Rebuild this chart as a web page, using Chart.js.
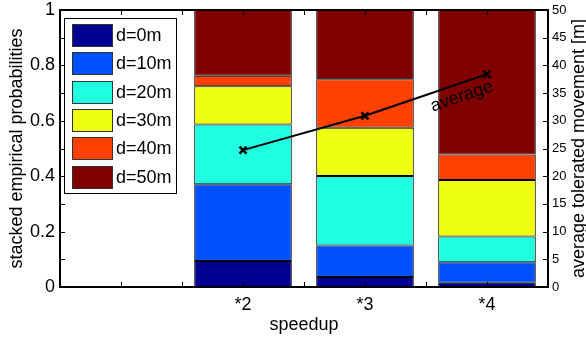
<!DOCTYPE html>
<html>
<head>
<meta charset="utf-8">
<script src="https://cdn.jsdelivr.net/npm/chart.js@4.4.1/dist/chart.umd.min.js"></script>
<style>
  html, body { margin: 0; padding: 0; background: #fff; }
  #wrap { width: 586px; height: 338px; position: relative; }
</style>
</head>
<body>
<div id="wrap"><canvas id="c" width="586" height="338"></canvas></div>
<script>
// ---- data ----
const categories = ['', '*2', '*3', '*4'];
const seriesLabels = ['d=0m', 'd=10m', 'd=20m', 'd=30m', 'd=40m', 'd=50m'];
const d0  = [null, 0.094, 0.036, 0.015];
const d10 = [null, 0.277, 0.114, 0.074];
const d20 = [null, 0.216, 0.251, 0.093];
const d30 = [null, 0.138, 0.174, 0.204];
const d40 = [null, 0.038, 0.175, 0.092];
const d50 = [null, 0.237, 0.250, 0.522];
const averageMovement = [null, 24.7, 30.9, 38.4];
const leftTicks = [0, 0.2, 0.4, 0.6, 0.8, 1];
const rightTicks = [0, 5, 10, 15, 20, 25, 30, 35, 40, 45, 50];
const seriesColors = ['#000090', '#0050FF', '#20FFDF', '#EFFF10', '#FF4000', '#800000'];
const FONT = "'Liberation Sans', Arial, Helvetica, sans-serif";

const seriesValues = [d0, d10, d20, d30, d40, d50];
const barSets = seriesValues.map((vals, i) => ({
  type: 'bar',
  label: seriesLabels[i],
  data: vals,
  backgroundColor: seriesColors[i],
  borderColor: '#000',
  borderWidth: 1,
  borderSkipped: false,
  stack: 's',
  yAxisID: 'y',
  barPercentage: 0.8,
  categoryPercentage: 1.0,
  order: 2
}));

const lineSet = {
  type: 'line',
  label: 'average',
  data: averageMovement,
  yAxisID: 'y2',
  borderColor: '#000',
  borderWidth: 2,
  pointStyle: 'crossRot',
  pointRadius: 5,
  pointBorderWidth: 2.5,
  pointBorderColor: '#000',
  backgroundColor: '#000',
  fill: false,
  tension: 0,
  order: 0
};

const framePlugin = {
  id: 'frame',
  afterDatasetsDraw(chart) {
    const ctx = chart.ctx, a = chart.chartArea;
    const x = chart.scales.x, y = chart.scales.y, y2 = chart.scales.y2;
    ctx.save();
    ctx.strokeStyle = '#000';
    ctx.lineWidth = 1;
    ctx.beginPath();
    for (let v = 0; v <= 10; v++) {
      const py = Math.round(y.getPixelForValue(v / 10)) + 0.5;
      ctx.moveTo(a.left, py); ctx.lineTo(a.left + 5, py);
    }
    rightTicks.forEach(v => {
      const py = Math.round(y2.getPixelForValue(v)) + 0.5;
      ctx.moveTo(a.right, py); ctx.lineTo(a.right - 5, py);
    });
    const half = (x.getPixelForValue(1) - x.getPixelForValue(0)) / 2;
    for (let i = 0; i < categories.length; i++) {
      const c = x.getPixelForValue(i);
      [c, c + half].forEach(px => {
        if (px >= a.right - 1) return;
        const p = Math.round(px) + 0.5;
        ctx.moveTo(p, a.bottom); ctx.lineTo(p, a.bottom - 5);
        ctx.moveTo(p, a.top); ctx.lineTo(p, a.top + 5);
      });
    }
    ctx.stroke();
    ctx.lineWidth = 2;
    ctx.strokeRect(a.left, a.top, a.right - a.left, a.bottom - a.top);
    ctx.restore();
  },
  afterDraw(chart) {
    const ctx = chart.ctx, a = chart.chartArea;
    ctx.save();
    ctx.font = '18px ' + FONT;
    ctx.fillStyle = '#000';
    ctx.textAlign = 'center';
    ctx.textBaseline = 'middle';
    ctx.translate(579, (a.top + a.bottom) / 2);
    ctx.rotate(-Math.PI / 2);
    ctx.fillText('average tolerated movement [m]', 0, 0);
    ctx.restore();

    // "average" label along the line between *3 and *4
    const li = chart.data.datasets.findIndex(d => d.type === 'line');
    const meta = chart.getDatasetMeta(li);
    const p1 = meta.data[2], p2 = meta.data[3];
    if (p1 && p2) {
      const ang = Math.atan2(p2.y - p1.y, p2.x - p1.x);
      const t = 0.76;
      const cx = p1.x + (p2.x - p1.x) * t - Math.sin(ang) * 13;
      const cy = p1.y + (p2.y - p1.y) * t + Math.cos(ang) * 13;
      ctx.save();
      ctx.font = '18px ' + FONT;
      ctx.fillStyle = '#000';
      ctx.textAlign = 'center';
      ctx.textBaseline = 'middle';
      ctx.translate(cx, cy);
      ctx.rotate(ang);
      ctx.fillText('average', 0, 0);
      ctx.restore();
    }

    // legend box
    ctx.save();
    const bx = 64, by = 18, bw = 112, bh = 175;
    ctx.fillStyle = '#fff';
    ctx.fillRect(bx, by, bw, bh);
    ctx.strokeStyle = '#000';
    ctx.lineWidth = 1;
    ctx.strokeRect(bx + 0.5, by + 0.5, bw, bh);
    ctx.font = '18px ' + FONT;
    ctx.textAlign = 'left';
    ctx.textBaseline = 'middle';
    let k = 0;
    chart.data.datasets.forEach(ds => {
      if (ds.type !== 'bar') return;
      const sy = Math.round(24 + k * 28.3);
      ctx.fillStyle = ds.backgroundColor;
      ctx.fillRect(72, sy, 40, 22);
      ctx.strokeStyle = '#333';
      ctx.strokeRect(72.5, sy + 0.5, 40, 22);
      ctx.fillStyle = '#000';
      ctx.fillText(ds.label, 116, sy + 12);
      k++;
    });
    ctx.restore();
  }
};

function noPadV(s) { s.paddingTop = 0; s.paddingBottom = 0; }

new Chart(document.getElementById('c'), {
  data: { labels: categories, datasets: [lineSet, ...barSets] },
  options: {
    responsive: false,
    animation: false,
    devicePixelRatio: 1,
    layout: { padding: { top: 10, left: 0, right: 0, bottom: 0 } },
    plugins: { legend: { display: false }, tooltip: { enabled: false } },
    scales: {
      x: {
        type: 'category',
        stacked: true,
        offset: true,
        grid: { display: false, drawTicks: false },
        border: { display: false },
        ticks: { color: '#000', font: { size: 18, family: FONT }, padding: 7, maxRotation: 0, autoSkip: false },
        title: { display: true, text: 'speedup', color: '#000', font: { size: 18, family: FONT, lineHeight: 1.2 }, padding: { top: 0, bottom: 2 } },
        afterFit(s) { s.height = 51; s.paddingLeft = 0; s.paddingRight = 0; }
      },
      y: {
        type: 'linear',
        position: 'left',
        stacked: true,
        min: 0, max: 1,
        afterBuildTicks(s) { s.ticks = leftTicks.map(v => ({ value: v })); },
        grid: { display: false, drawTicks: false },
        border: { display: false },
        ticks: { color: '#000', font: { size: 18, family: FONT }, padding: 5, callback: v => String(Math.round(v * 10) / 10) },
        title: { display: true, text: 'stacked empirical probabilities', color: '#000', font: { size: 18, family: FONT, lineHeight: 1.2 }, padding: { top: 6, bottom: 0 } },
        afterFit(s) { s.width = 60; noPadV(s); }
      },
      y2: {
        type: 'linear',
        position: 'right',
        min: 0, max: 50,
        afterBuildTicks(s) { s.ticks = rightTicks.map(v => ({ value: v })); },
        grid: { display: false, drawTicks: false },
        border: { display: false },
        ticks: { color: '#000', font: { size: 13, family: FONT }, padding: 4 },
        afterFit(s) { s.width = 38; noPadV(s); }
      }
    }
  },
  plugins: [framePlugin]
});
</script>
</body>
</html>
